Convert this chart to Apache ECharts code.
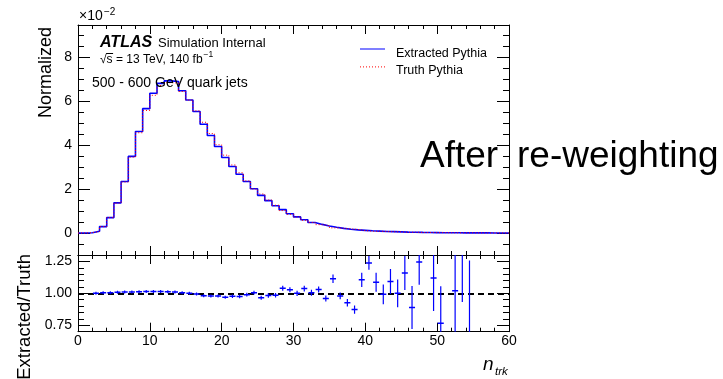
<!DOCTYPE html>
<html><head><meta charset="utf-8">
<script src="https://cdn.jsdelivr.net/npm/echarts@6/dist/echarts.min.js"></script>
<style>html,body{margin:0;padding:0;background:#fff}#c{width:723px;height:379px}</style>
</head><body><div id="c"></div><script>
// ---------------- DATA ----------------
var binLow = [0,1,2,3,4,5,6,7,8,9,10,11,12,13,14,15,16,17,18,19,20,21,22,23,24,25,26,27,28,29,
              30,31,32,33,34,35,36,37,38,39,40,41,42,43,44,45,46,47,48,49,50,51,52,53,54,55,56,57,58,59];
var xMax = 60;
// normalized n_trk distributions, in units of 1e-2
var extracted = [0.000,0.010,0.075,0.290,0.700,1.370,2.340,3.480,4.610,5.650,
                 6.350,6.800,6.910,6.880,6.460,6.040,5.520,4.940,4.430,3.930,
                 3.430,3.020,2.670,2.340,2.010,1.710,1.470,1.240,1.060,0.875,
                 0.730,0.600,0.480,0.390,0.320,0.260,0.210,0.170,0.140,0.120,
                 0.100,0.085,0.070,0.060,0.050,0.040,0.033,0.027,0.022,0.018,
                 0.014,0.011,0.009,0.007,0.005,0.004,0.003,0.002,0.001,0.001];
var truth = [0.000,0.010,0.075,0.289,0.697,1.359,2.317,3.446,4.555,5.567,
             6.256,6.700,6.828,6.812,6.428,6.040,5.548,5.031,4.520,4.010,
             3.536,3.091,2.738,2.364,2.000,1.772,1.495,1.259,1.019,0.851,
             0.730,0.579,0.478,0.379,0.333,0.233,0.214,0.184,0.160,0.108,
             0.081,0.078,0.071,0.055,0.050,0.034,0.037,0.022,0.022,0.016,
             0.018,0.011,0.009,0.005,0.008,0.004,0.003,0.002,0.001,0.001];
// ratio panel
var ratioBin = [2,3,4,5,6,7,8,9,10,11,12,13,14,15,16,17,18,19,20,21,22,23,24,25,26,27,28,29,30,31,
                32,33,34,35,36,37,38,39,40,41,42,43,44,45,46,47,49,50,52,53,54];
var ratioValue = [1.000,1.005,1.005,1.008,1.010,1.010,1.012,1.015,1.015,1.015,
                  1.012,1.010,1.005,1.000,0.995,0.982,0.980,0.980,0.970,0.977,
                  0.975,0.990,1.005,0.965,0.983,0.985,1.040,1.028,1.000,1.037,
                  1.005,1.030,0.960,1.114,0.980,0.926,0.873,1.106,1.238,1.087,
                  0.992,1.093,1.000,1.160,0.889,1.246,
                  1.120,0.767,1.020,1.380,0.600];
var ratioError = [0.004,0.004,0.004,0.004,0.004,0.004,0.004,0.004,0.004,0.004,
                  0.004,0.004,0.004,0.004,0.004,0.004,0.004,0.004,0.004,0.006,
                  0.006,0.007,0.007,0.008,0.009,0.010,0.011,0.012,0.013,0.014,
                  0.015,0.016,0.015,0.026,0.018,0.022,0.025,0.048,0.046,0.066,
                  0.070,0.090,0.100,0.125,0.160,0.170,
                  0.250,0.280,0.500,0.440,0.650];
var ratioRef = 1.0;
// ticks
var xMajorInterval = 10;
var yTopMajor = [0,2,4,6,8];
var yTopMinor = [-0.5,0.5,1,1.5,2.5,3,3.5,4.5,5,5.5,6.5,7,7.5,8.5,9];
var yBotMajor = [0.75,1.00,1.25];
var yBotMinor = [0.8,0.85,0.9,0.95,1.05,1.1,1.15,1.2];

// ---------------- CHART ----------------
var FONT = '"Liberation Sans", Arial, Helvetica, sans-serif';
var BLUE = '#0000ff', RED = '#ff0000';
var chart = echarts.init(document.getElementById('c'), null, {renderer:'canvas'});

function stepData(vals){
  var d = [];
  for (var i = 0; i < vals.length; i++) d.push([binLow[i], vals[i]]);
  d.push([xMax, vals[vals.length-1]]);
  return d;
}
var ratioData = ratioBin.map(function(b, i){ return [b + 0.5, ratioValue[i], ratioError[i]]; });

var BLK = {color:'#000', width:1};
function xAxisDef(grid, pos, showLabel){
  return {
    gridIndex: grid, type:'value', position: pos, min:0, max:xMax, interval:xMajorInterval,
    axisLine:{show:true, onZero:false, lineStyle:BLK},
    axisTick:{show:true, inside:true, length: 9, lineStyle:BLK},
    minorTick:{show:true, splitNumber:5, length:4, lineStyle:BLK},
    axisLabel:{show:showLabel, margin:2, color:'#000', fontFamily:FONT, fontSize:14},
    splitLine:{show:false}, minorSplitLine:{show:false}
  };
}
function yAxisDef(grid, pos, min, max, ticks, len, showLine, showLabel, fmt){
  return {
    gridIndex: grid, type:'value', position: pos, min:min, max:max,
    axisLine:{show:showLine, onZero:false, lineStyle:BLK},
    axisTick:{show:true, inside:true, length:len, customValues:ticks, lineStyle:BLK},
    axisLabel:{show:showLabel, customValues:ticks, margin:6, color:'#000', fontFamily:FONT, fontSize:14, formatter:fmt},
    splitLine:{show:false}
  };
}
var fmtTop = function(v){ return String(v); };
var fmtBot = function(v){ return v.toFixed(2); };

var ctx = document.createElement('canvas').getContext('2d');
function tw(txt, font){ ctx.font = font; return ctx.measureText(txt).width; }
function txt(x, baseline, s, size, extra){
  var font = (extra ? extra + ' ' : '') + size + 'px ' + FONT;
  return {type:'text', x:x, y:baseline - 0.36*size, z:100,
          style:{text:s, font:font, fill:'#000', align:'left', verticalAlign:'middle'}};
}
var fEnergy = '12px ' + FONT;
var energyText = '\u221As = 13 TeV, 140 fb';
var eW = tw(energyText, fEnergy);
var sqW = tw('\u221A', fEnergy);
var sW = tw('s', fEnergy);

// legend layout
var LEG_X = 358, LEG_TOP = 42, LEG_ITEM_H = 14, LEG_GAP = 3.4, LEG_ICON_W = 28;

var option = {
  animation:false,
  backgroundColor:'#fff',
  grid:[
    {left:78, top:25, width:431, height:230},
    {left:78, top:255, width:431, height:76.7}
  ],
  xAxis:[
    xAxisDef(0,'bottom',false),
    xAxisDef(0,'top',false),
    xAxisDef(1,'bottom',true),
    xAxisDef(1,'top',false)
  ],
  yAxis:[
    yAxisDef(0,'left',-1,9.45,yTopMajor,12,true,true,fmtTop),
    yAxisDef(0,'left',-1,9.45,yTopMinor,6,false,false,fmtTop),
    yAxisDef(0,'right',-1,9.45,yTopMajor,12,true,false,fmtTop),
    yAxisDef(0,'right',-1,9.45,yTopMinor,6,false,false,fmtTop),
    yAxisDef(1,'left',0.7,1.3,yBotMajor,12,true,true,fmtBot),
    yAxisDef(1,'left',0.7,1.3,yBotMinor,6,false,false,fmtBot),
    yAxisDef(1,'right',0.7,1.3,yBotMajor,12,true,false,fmtBot),
    yAxisDef(1,'right',0.7,1.3,yBotMinor,6,false,false,fmtBot)
  ],
  legend:{
    left:LEG_X, top:LEG_TOP, orient:'vertical', itemWidth:LEG_ICON_W, itemHeight:LEG_ITEM_H, itemGap:LEG_GAP,
    selectedMode:false, icon:'none',
    textStyle:{fontFamily:FONT, fontSize:12.5, color:'#000'},
    data:['Extracted Pythia','Truth Pythia']
  },
  series:[
    {name:'Extracted Pythia', type:'line', xAxisIndex:0, yAxisIndex:0, step:'end',
     symbol:'none', data:stepData(extracted),
     lineStyle:{color:BLUE, width:1.6}, itemStyle:{color:BLUE}, z:3},
    {name:'Truth Pythia', type:'line', xAxisIndex:0, yAxisIndex:0, step:'end',
     symbol:'none', data:stepData(truth),
     lineStyle:{color:RED, width:1, type:[1,2]}, itemStyle:{color:RED}, z:4},
    {name:'ratio', type:'custom', xAxisIndex:2, yAxisIndex:4, clip:true, data:ratioData,
     renderItem:function(params, api){
       var x = api.value(0), y = api.value(1), e = api.value(2);
       var pL = api.coord([x-0.42, y]), pR = api.coord([x+0.42, y]);
       var pT = api.coord([x, y+e]), pB = api.coord([x, y-e]);
       return {type:'group', children:[
         {type:'line', shape:{x1:pL[0], y1:pL[1], x2:pR[0], y2:pR[1]}, style:{stroke:BLUE, lineWidth:1.5}},
         {type:'line', shape:{x1:pT[0], y1:pT[1]-1, x2:pB[0], y2:pB[1]+1}, style:{stroke:BLUE, lineWidth:1.2}}
       ]};
     },
     markLine:{silent:true, symbol:'none', label:{show:false},
       lineStyle:{color:'#000', width:2, type:[6,4]},
       data:[{yAxis:ratioRef}]},
     z:5}
  ],
  graphic:[
    {type:'line', z:100, shape:{x1:LEG_X + 2, y1:LEG_TOP + LEG_ITEM_H/2, x2:LEG_X + LEG_ICON_W - 1, y2:LEG_TOP + LEG_ITEM_H/2},
     style:{stroke:'#3a3aff', lineWidth:1.3}},
    {type:'line', z:100, shape:{x1:LEG_X + 2, y1:LEG_TOP + 1.5*LEG_ITEM_H + LEG_GAP + 0.5, x2:LEG_X + LEG_ICON_W - 1, y2:LEG_TOP + 1.5*LEG_ITEM_H + LEG_GAP + 0.5},
     style:{stroke:RED, lineWidth:1, lineDash:[1,2]}},
    txt(79, 21, '\u00d710', 14),
    txt(104, 16, '\u22122', 10),
    txt(100, 48, 'ATLAS', 16, 'italic bold'),
    txt(158, 48, 'Simulation Internal', 13),
    txt(100, 64, energyText, 12),
    {type:'line', z:100, shape:{x1:100 + sqW - 0.5, y1:53.5, x2:100 + sqW + sW + 0.5, y2:53.5}, style:{stroke:'#000', lineWidth:1}},
    txt(100 + eW + 1, 58, '\u22121', 8.5),
    txt(92, 88, '500 - 600 GeV quark jets', 14),
    txt(420, 170, 'After', 37),
    txt(517, 170, 're-weighting', 37),
    {type:'text', x:46, y:27, rotation:Math.PI/2, z:100,
     style:{text:'Normalized', font:'18px ' + FONT, fill:'#000', align:'right', verticalAlign:'middle'}},
    {type:'text', x:25, y:254, rotation:Math.PI/2, z:100,
     style:{text:'Extracted/Truth', font:'18.5px ' + FONT, fill:'#000', align:'right', verticalAlign:'middle'}},
    txt(483, 372, 'n', 19, 'italic'),
    txt(495, 376, 'trk', 11.5, 'italic')
  ]
};
chart.setOption(option);
</script></body></html>
